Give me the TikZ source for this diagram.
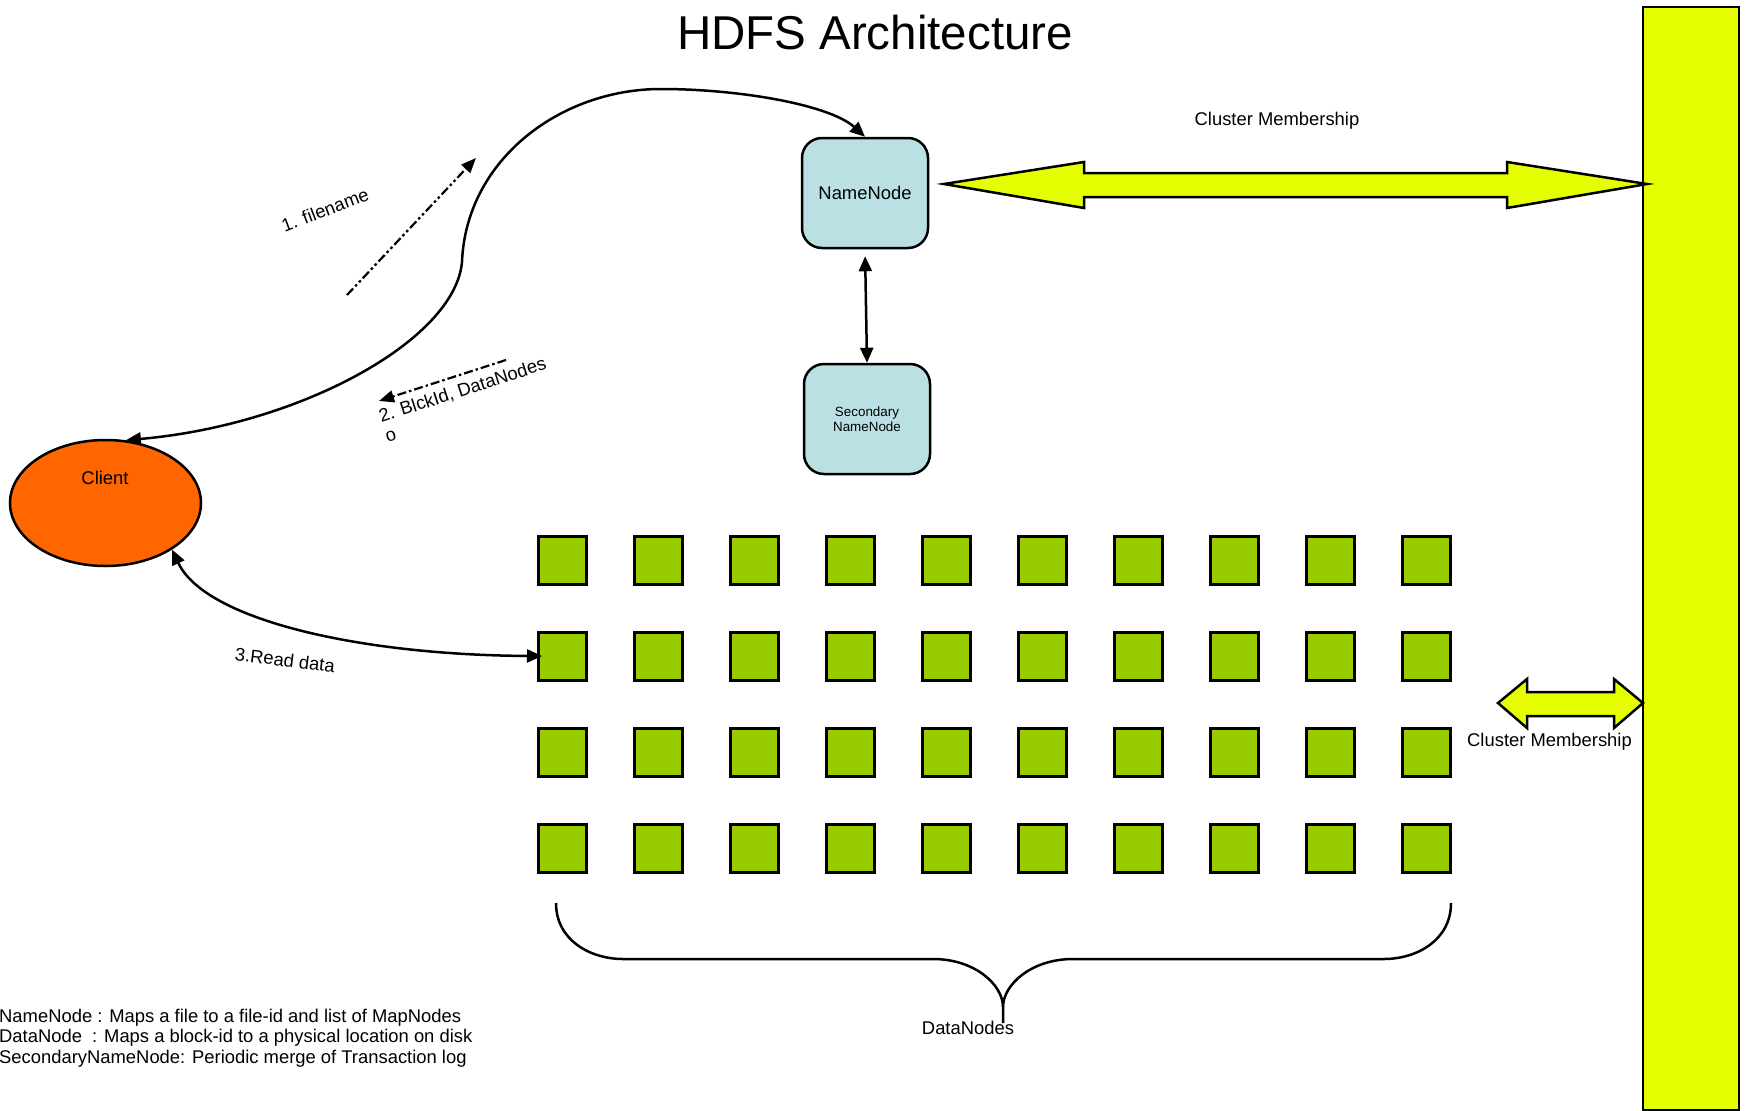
\documentclass[tikz,border=0pt]{standalone}
\usepackage{fontspec}
\setmainfont{Liberation Sans}
\usetikzlibrary{arrows.meta,shapes.geometric}
\definecolor{nnblue}{RGB}{187,224,227}
\definecolor{dngreen}{RGB}{153,204,0}
\definecolor{clorange}{RGB}{255,102,0}
\definecolor{cmyellow}{RGB}{230,255,0}
\tikzset{
 lbl/.style={font=\fontsize{18.4}{20.5}\selectfont, inner sep=0pt},
 nnbox/.style={draw, line width=2.5pt, fill=nnblue, rounded corners=20pt, minimum width=126pt, minimum height=110pt, inner sep=0pt},
 dn/.style={draw, line width=3pt, fill=dngreen, minimum width=48pt, minimum height=48pt, inner sep=0pt},
 conn/.style={line width=2.5pt, {Triangle[length=15pt,width=13pt]}-{Triangle[length=15pt,width=13pt]}},
 msg/.style={line width=2.2pt, -{Triangle[length=15pt,width=12pt]}},
 ddd/.style={dash pattern=on 9pt off 3pt on 2.5pt off 3pt on 2.5pt off 3pt},
 dd/.style={dash pattern=on 9pt off 3pt on 2.5pt off 3pt},
 yarrow/.style={draw, fill=cmyellow, line width=2.5pt, line join=miter},
}
\begin{document}
\begin{tikzpicture}[x=1pt,y=-1pt]
\useasboundingbox (0,0) rectangle (1749,1111);

% title
\node[font=\fontsize{47.5}{56}\selectfont, anchor=base, inner sep=0pt] (title) at (875,49) {HDFS Architecture};

% cluster bar
\node[draw, fill=cmyellow, line width=2pt, minimum width=96pt, minimum height=1103pt, inner sep=0pt] (bar) at (1691,558.5) {};

% namenodes
\node[nnbox, font=\fontsize{18.4}{20.5}\selectfont] (nn) at (865,193) {NameNode};
\node[nnbox, font=\fontsize{13.4}{15}\selectfont, align=center] (sn) at (867,419) {Secondary\\NameNode};

% client
\node[draw, ellipse, fill=clorange, line width=2.5pt, minimum width=191pt, minimum height=126pt, inner sep=0pt] (client) at (105.5,503) {};
\node[lbl, anchor=base] (clientlbl) at (105,484) {Client};

% datanodes
\foreach \r in {1,...,4}{
  \foreach \c in {1,...,10}{
    \node[dn] (d\r-\c) at ({562.5+96*(\c-1)},{560+96*(\r-1)}) {};
  }
}

% big cluster membership arrow
\draw[yarrow] (944,184) -- (1084,162) -- (1084,173) -- (1507,173) -- (1507,162) -- (1647,184)
  -- (1507,208) -- (1507,197) -- (1084,197) -- (1084,208) -- cycle;
\node[lbl, anchor=base] (cm1) at (1277,125) {Cluster Membership};

% small cluster membership arrow
\draw[yarrow] (1498,703) -- (1527,679) -- (1527,692) -- (1614,692) -- (1614,679) -- (1643,703)
  -- (1614,728) -- (1614,716) -- (1527,716) -- (1527,728) -- cycle;
\node[lbl, anchor=base] (cm2) at (1549.5,746) {Cluster Membership};

% connectors
\draw[conn] (client.72) .. controls (300,425) and (455,340) .. (462,262)
  .. controls (466,160) and (560,89) .. (661,89)
  .. controls (740,89) and (830,105) .. (nn.north);
\draw[conn, shorten <=7pt] (nn.south) -- (sn.north);
\draw[conn, shorten >=-5pt] (client.-35) .. controls (205,620) and (360,655) .. (d2-1.west);

% message arrows
\coordinate (f1) at (347,295);
\coordinate (f2) at (476,158);
\draw[msg, ddd] (f1) -- (f2);
\coordinate (b1) at (506,360);
\coordinate (b2) at (379,401);
\draw[msg, dd] (b1) -- (b2);

\node[lbl, rotate=21] (t1) at (325,210) {1. filename};
\node[lbl, rotate=18, anchor=north west, align=left] (t2) at (377,410) {2. BlckId, DataNodes\\o};
\node[lbl, rotate=-7] (t3) at (285,660) {3.Read data};

% brace
\node[lbl, anchor=base] (dnl) at (968,1034) {DataNodes};
\coordinate (brl) at (556,903);
\coordinate (brr) at (1451,903);
\coordinate (brt) at (1003,1007);
\draw[line width=2.5pt] (brl) .. controls (556,940) and (590,959) .. (623,959) -- (933,959)
  .. controls (975,959) and (1003,985) .. (brt) -- (1003,1023);
\draw[line width=2.5pt] (brt) .. controls (1003,985) and (1031,959) .. (1073,959) -- (1384,959)
  .. controls (1417,959) and (1451,940) .. (brr);

% legend
\node[lbl, anchor=base west] (lg1) at (-1,1022) {NameNode : Maps a file to a file-id and list of MapNodes};
\node[lbl, anchor=base west] (lg2) at (-1,1042.5) {DataNode\ \ : Maps a block-id to a physical location on disk};
\node[lbl, anchor=base west] (lg3) at (-1,1063) {SecondaryNameNode: Periodic merge of Transaction log};
\end{tikzpicture}
\end{document}
